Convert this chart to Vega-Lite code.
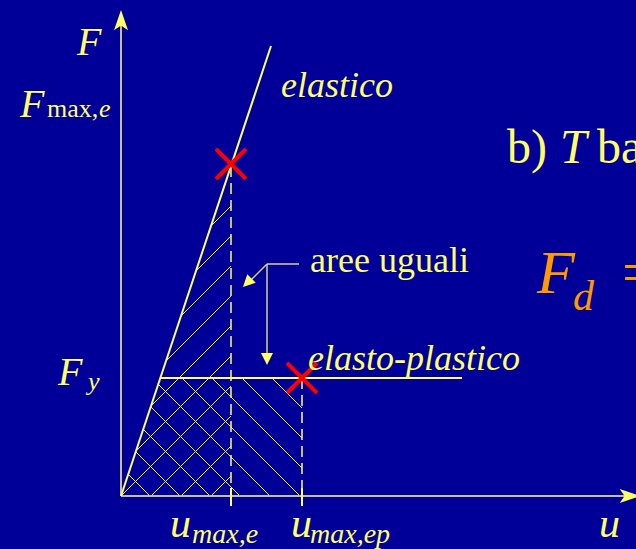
{
  "$schema": "https://vega.github.io/schema/vega-lite/v6.json",
  "width": 636,
  "height": 549,
  "padding": 0,
  "autosize": {"type": "none"},
  "background": "#000099",
  "config": {"view": {"stroke": null}, "text": {"font": "Liberation Serif, Times New Roman, Times, serif"}},
  "datasets": {
    "segs": [
      {"kind": "axis", "x": 0, "y": 0, "x2": 0, "y2": 478},
      {"kind": "axis", "x": 0, "y": 0, "x2": 508, "y2": 0},
      {"kind": "curve", "x": 0, "y": 0, "x2": 150, "y2": 450},
      {"kind": "curve", "x": 39.3, "y": 118, "x2": 341, "y2": 118},
      {"kind": "dash", "x": 110, "y": 330, "x2": 110, "y2": 0},
      {"kind": "dash", "x": 181, "y": 118, "x2": 181, "y2": 0},
      {"kind": "tick", "x": 110, "y": 8, "x2": 110, "y2": -10},
      {"kind": "tick", "x": 181, "y": 8, "x2": 181, "y2": -10},
      {"kind": "pointer", "x": 178, "y": 232, "x2": 146, "y2": 232},
      {"kind": "pointer", "x": 146, "y": 232, "x2": 146, "y2": 142},
      {"kind": "pointer", "x": 146, "y": 232, "x2": 130, "y2": 216},
      {"kind": "hatch", "x": 90, "y": 270, "x2": 110, "y2": 290},
      {"kind": "hatch", "x": 75, "y": 225, "x2": 110, "y2": 260},
      {"kind": "hatch", "x": 60, "y": 180, "x2": 110, "y2": 230},
      {"kind": "hatch", "x": 45, "y": 135, "x2": 110, "y2": 200},
      {"kind": "hatch", "x": 30, "y": 90, "x2": 110, "y2": 170},
      {"kind": "hatch", "x": 15, "y": 45, "x2": 110, "y2": 140},
      {"kind": "hatch", "x": 0, "y": 0, "x2": 110, "y2": 110},
      {"kind": "hatch", "x": 30, "y": 0, "x2": 110, "y2": 80},
      {"kind": "hatch", "x": 60, "y": 0, "x2": 110, "y2": 50},
      {"kind": "hatch", "x": 90, "y": 0, "x2": 110, "y2": 20},
      {"kind": "hatch", "x": 7.25, "y": 21.75, "x2": 29, "y2": 0},
      {"kind": "hatch", "x": 14.75, "y": 44.25, "x2": 59, "y2": 0},
      {"kind": "hatch", "x": 22.25, "y": 66.75, "x2": 89, "y2": 0},
      {"kind": "hatch", "x": 29.75, "y": 89.25, "x2": 119, "y2": 0},
      {"kind": "hatch", "x": 37.25, "y": 111.75, "x2": 149, "y2": 0},
      {"kind": "hatch", "x": 61, "y": 118, "x2": 179, "y2": 0},
      {"kind": "hatch", "x": 91, "y": 118, "x2": 181, "y2": 28},
      {"kind": "hatch", "x": 121, "y": 118, "x2": 181, "y2": 58},
      {"kind": "hatch", "x": 151, "y": 118, "x2": 181, "y2": 88}
    ],
    "heads": [
      {"dir": "up", "x": 0, "y": 486},
      {"dir": "right", "x": 519, "y": 0},
      {"dir": "down", "x": 146, "y": 131},
      {"dir": "downleft", "x": 122, "y": 209}
    ],
    "limits": [
      {"name": "F max elastico", "x": 110, "y": 332},
      {"name": "u max elasto-plastico", "x": 181, "y": 118}
    ],
    "labels": [
      {"part": "var", "x": -44, "y": 441, "text": "F"},
      {"part": "var", "x": -101, "y": 379, "text": "F"},
      {"part": "subRoman", "x": -74, "y": 379, "text": "max,"},
      {"part": "sub", "x": -22, "y": 379, "text": "e"},
      {"part": "var", "x": -63, "y": 111, "text": "F"},
      {"part": "sub", "x": -33, "y": 106, "text": "y"},
      {"part": "curveLabel", "x": 160, "y": 399, "text": "elastico"},
      {"part": "annotation", "x": 189, "y": 224, "text": "aree uguali"},
      {"part": "curveLabel", "x": 187, "y": 126, "text": "elasto-plastico"},
      {"part": "heading", "x": 386, "y": 333, "text": "b)"},
      {"part": "headingVar", "x": 439, "y": 333, "text": "T"},
      {"part": "heading", "x": 476, "y": 333, "text": "ba"},
      {"part": "formula", "x": 416, "y": 203, "text": "F"},
      {"part": "formulaSub", "x": 452, "y": 186, "text": "d"},
      {"part": "formulaOp", "x": 501, "y": 203, "text": "="},
      {"part": "axisVar", "x": 49, "y": -41, "text": "u"},
      {"part": "axisSub", "x": 71, "y": -47, "text": "max,e"},
      {"part": "axisVar", "x": 170, "y": -41, "text": "u"},
      {"part": "axisSub", "x": 189, "y": -47, "text": "max,ep"},
      {"part": "axisVar", "x": 478, "y": -41, "text": "u"}
    ]
  },
  "encoding": {
    "x": {"field": "x", "type": "quantitative", "scale": {"domain": [-121, 515], "nice": false, "zero": false}, "axis": null},
    "y": {"field": "y", "type": "quantitative", "scale": {"domain": [-53, 496], "nice": false, "zero": false}, "axis": null}
  },
  "layer": [
    {"data": {"name": "segs"}, "transform": [{"filter": "datum.kind == 'hatch'"}], "mark": {"type": "rule", "color": "#F2F070", "strokeWidth": 1}, "encoding": {"x2": {"field": "x2"}, "y2": {"field": "y2"}}},
    {"data": {"name": "segs"}, "transform": [{"filter": "datum.kind == 'axis'"}], "mark": {"type": "rule", "color": "#C4C08C", "strokeWidth": 2}, "encoding": {"x2": {"field": "x2"}, "y2": {"field": "y2"}}},
    {"data": {"name": "segs"}, "transform": [{"filter": "datum.kind == 'curve'"}], "mark": {"type": "rule", "color": "#FFFF66", "strokeWidth": 2}, "encoding": {"x2": {"field": "x2"}, "y2": {"field": "y2"}}},
    {"data": {"name": "segs"}, "transform": [{"filter": "datum.kind == 'dash'"}], "mark": {"type": "rule", "color": "#FFFF66", "strokeWidth": 1.5, "strokeDash": [11, 6]}, "encoding": {"x2": {"field": "x2"}, "y2": {"field": "y2"}}},
    {"data": {"name": "segs"}, "transform": [{"filter": "datum.kind == 'tick'"}], "mark": {"type": "rule", "color": "#FFFF66", "strokeWidth": 2}, "encoding": {"x2": {"field": "x2"}, "y2": {"field": "y2"}}},
    {"data": {"name": "segs"}, "transform": [{"filter": "datum.kind == 'pointer'"}], "mark": {"type": "rule", "color": "#D6D28C", "strokeWidth": 1.5}, "encoding": {"x2": {"field": "x2"}, "y2": {"field": "y2"}}},
    {"data": {"name": "heads"}, "transform": [{"filter": "datum.dir == 'up'"}], "mark": {"type": "point", "shape": "M0,0L0.5,1.45L0,1.1L-0.5,1.45Z", "size": 784, "filled": true, "color": "#FFFF66", "opacity": 1, "angle": 0}},
    {"data": {"name": "heads"}, "transform": [{"filter": "datum.dir == 'right'"}], "mark": {"type": "point", "shape": "M0,0L0.5,1.45L0,1.1L-0.5,1.45Z", "size": 784, "filled": true, "color": "#FFFF66", "opacity": 1, "angle": 90}},
    {"data": {"name": "heads"}, "transform": [{"filter": "datum.dir == 'down'"}], "mark": {"type": "point", "shape": "M0,0L0.5,1L-0.5,1Z", "size": 576, "filled": true, "color": "#FFFF66", "opacity": 1, "angle": 180}},
    {"data": {"name": "heads"}, "transform": [{"filter": "datum.dir == 'downleft'"}], "mark": {"type": "point", "shape": "M0,0L0.5,1L-0.5,1Z", "size": 576, "filled": true, "color": "#FFFF66", "opacity": 1, "angle": 225}},
    {"data": {"name": "limits"}, "mark": {"type": "point", "shape": "M-1,-1L1,1M-1,1L1,-1", "size": 900, "filled": false, "stroke": "#FF0000", "strokeWidth": 4, "opacity": 1}},
    {"data": {"name": "labels"}, "transform": [{"filter": "datum.part == 'var'"}], "mark": {"type": "text", "fontStyle": "italic", "fontSize": 40, "color": "#FFFF66", "align": "left", "baseline": "alphabetic"}, "encoding": {"text": {"field": "text"}}},
    {"data": {"name": "labels"}, "transform": [{"filter": "datum.part == 'sub'"}], "mark": {"type": "text", "fontStyle": "italic", "fontSize": 26, "color": "#FFFF66", "align": "left", "baseline": "alphabetic"}, "encoding": {"text": {"field": "text"}}},
    {"data": {"name": "labels"}, "transform": [{"filter": "datum.part == 'subRoman'"}], "mark": {"type": "text", "fontSize": 26, "color": "#FFFF66", "align": "left", "baseline": "alphabetic"}, "encoding": {"text": {"field": "text"}}},
    {"data": {"name": "labels"}, "transform": [{"filter": "datum.part == 'curveLabel'"}], "mark": {"type": "text", "fontStyle": "italic", "fontSize": 36, "color": "#FFFF66", "align": "left", "baseline": "alphabetic"}, "encoding": {"text": {"field": "text"}}},
    {"data": {"name": "labels"}, "transform": [{"filter": "datum.part == 'annotation'"}], "mark": {"type": "text", "fontSize": 36, "color": "#FFFF66", "align": "left", "baseline": "alphabetic"}, "encoding": {"text": {"field": "text"}}},
    {"data": {"name": "labels"}, "transform": [{"filter": "datum.part == 'heading'"}], "mark": {"type": "text", "fontSize": 48, "color": "#FFFF66", "align": "left", "baseline": "alphabetic"}, "encoding": {"text": {"field": "text"}}},
    {"data": {"name": "labels"}, "transform": [{"filter": "datum.part == 'headingVar'"}], "mark": {"type": "text", "fontStyle": "italic", "fontSize": 48, "color": "#FFFF66", "align": "left", "baseline": "alphabetic"}, "encoding": {"text": {"field": "text"}}},
    {"data": {"name": "labels"}, "transform": [{"filter": "datum.part == 'formula'"}], "mark": {"type": "text", "fontStyle": "italic", "fontSize": 62, "color": "#FF9900", "align": "left", "baseline": "alphabetic"}, "encoding": {"text": {"field": "text"}}},
    {"data": {"name": "labels"}, "transform": [{"filter": "datum.part == 'formulaSub'"}], "mark": {"type": "text", "fontStyle": "italic", "fontSize": 42, "color": "#FF9900", "align": "left", "baseline": "alphabetic"}, "encoding": {"text": {"field": "text"}}},
    {"data": {"name": "labels"}, "transform": [{"filter": "datum.part == 'formulaOp'"}], "mark": {"type": "text", "fontSize": 62, "color": "#FF9900", "align": "left", "baseline": "alphabetic"}, "encoding": {"text": {"field": "text"}}},
    {"data": {"name": "labels"}, "transform": [{"filter": "datum.part == 'axisVar'"}], "mark": {"type": "text", "fontStyle": "italic", "fontSize": 42, "color": "#FFFF66", "align": "left", "baseline": "alphabetic"}, "encoding": {"text": {"field": "text"}}},
    {"data": {"name": "labels"}, "transform": [{"filter": "datum.part == 'axisSub'"}], "mark": {"type": "text", "fontStyle": "italic", "fontSize": 28, "color": "#FFFF66", "align": "left", "baseline": "alphabetic"}, "encoding": {"text": {"field": "text"}}}
  ]
}
